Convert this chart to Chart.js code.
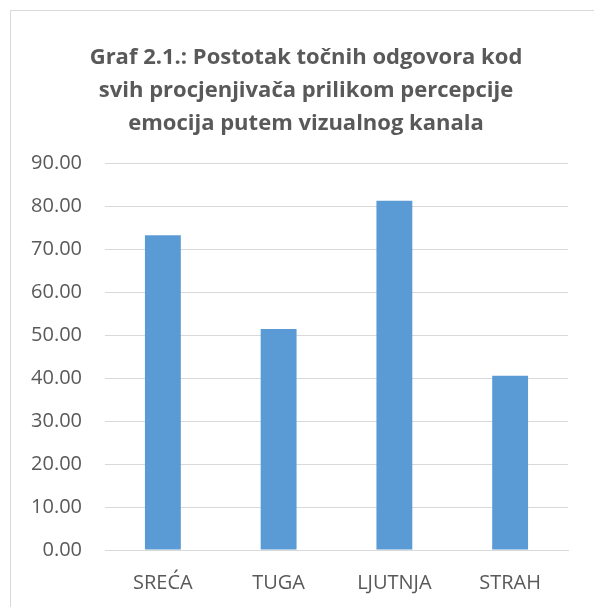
<!DOCTYPE html>
<html>
<head>
<meta charset="utf-8">
<script src="https://cdn.jsdelivr.net/npm/chart.js@4"></script>
<style>
  html, body { margin: 0; padding: 0; background: #fff; overflow: hidden; }
  #frame { position: absolute; left: 10px; top: 10px; width: 640px; height: 640px; border: 1px solid #d9d9d9; box-sizing: border-box; }
  #wrap { position: absolute; left: 0; top: 0; width: 594px; height: 607px; }
</style>
</head>
<body>
<div id="frame"></div>
<div id="wrap"><canvas id="c" width="594" height="607"></canvas></div>
<script>
const categories = ['SREĆA', 'TUGA', 'LJUTNJA', 'STRAH'];
const values = [73.2, 51.4, 81.2, 40.5];
const titleLines = ['Graf 2.1.: Postotak točnih odgovora kod', 'svih procjenjivača prilikom percepcije', 'emocija putem vizualnog kanala'];
const yMin = 0, yMax = 90, yStep = 10;

// shift the title's box so it centres over the framed area, as in the original
const titleShift = {
  id: 'titleShift',
  afterLayout(chart) {
    if (chart.titleBlock) { chart.titleBlock.left = 44; chart.titleBlock.right = 568; chart.titleBlock.width = 524; }
  }
};

new Chart(document.getElementById('c'), {
  type: 'bar',
  data: {
    labels: categories,
    datasets: [{ data: values, backgroundColor: '#5B9BD5', borderWidth: 0, categoryPercentage: 1, barPercentage: 0.31 }]
  },
  plugins: [titleShift],
  options: {
    responsive: false,
    animation: false,
    layout: { padding: { left: 0, right: 26, top: 0, bottom: 0 } },
    plugins: {
      legend: { display: false },
      tooltip: { enabled: false },
      title: {
        display: true,
        text: titleLines,
        color: '#595959',
        font: { family: 'Open Sans', size: 22, weight: 'bold', lineHeight: 1.5 },
        padding: { top: 41, bottom: 23 }
      }
    },
    scales: {
      y: {
        min: yMin, max: yMax,
        ticks: { stepSize: yStep, color: '#595959', font: { family: 'Open Sans', size: 20 }, padding: 23,
                 callback: v => Number(v).toFixed(2) },
        grid: { color: '#d9d9d9', lineWidth: 1, drawTicks: false },
        border: { display: false },
        afterFit: s => { s.width = 105; }
      },
      x: {
        ticks: { color: '#595959', font: { family: 'Open Sans', size: 20 }, padding: 21, maxRotation: 0 },
        grid: { display: false, drawTicks: false },
        border: { display: true, color: '#d9d9d9', width: 1 },
        afterFit: s => { s.height = 57; }
      }
    }
  }
});
</script>
</body>
</html>
